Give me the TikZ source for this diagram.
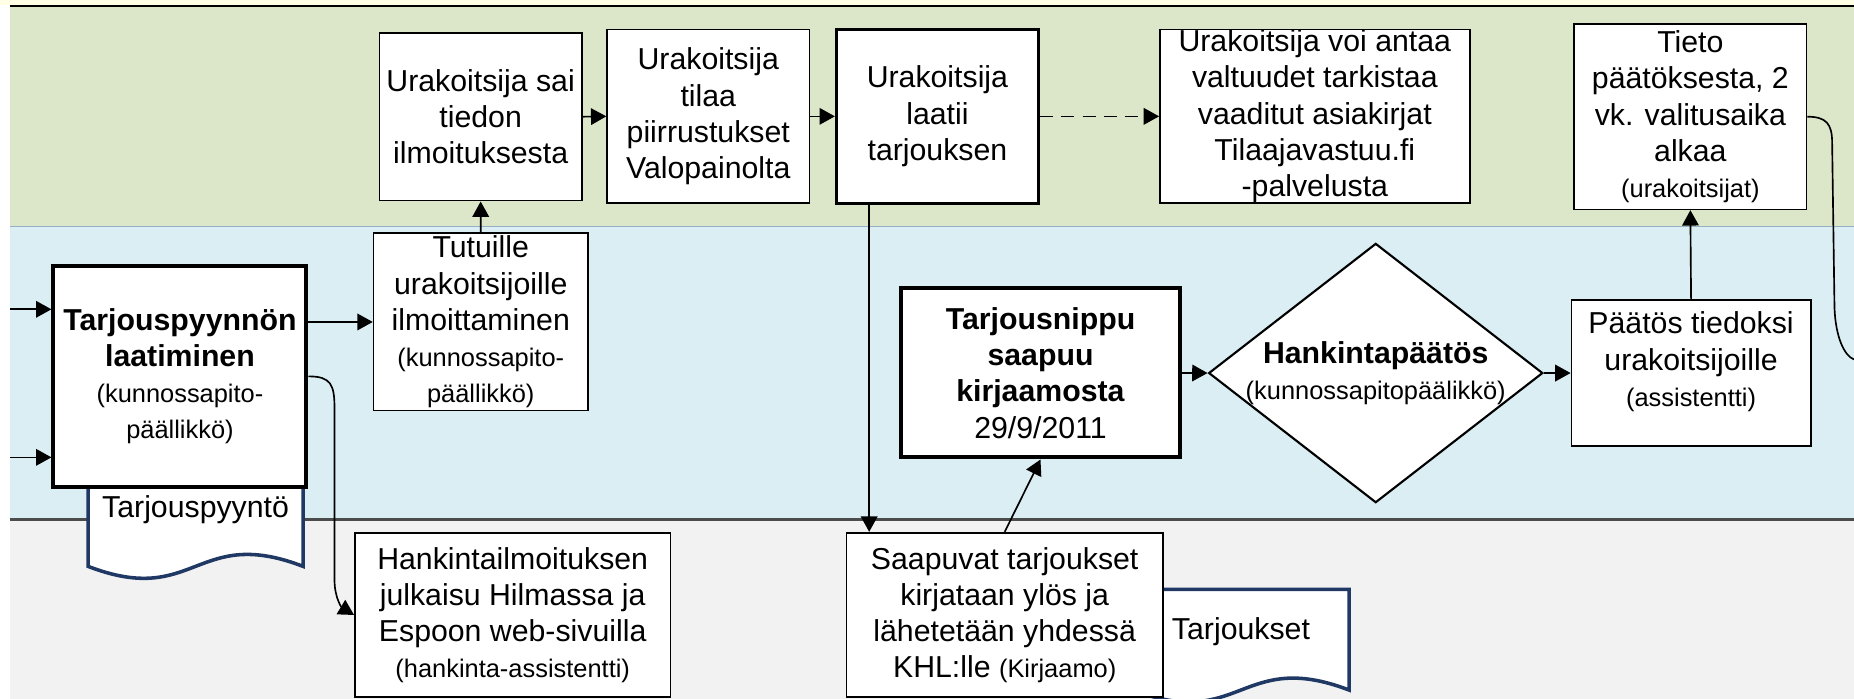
\documentclass[tikz,border=0pt]{standalone}
\usepackage{fontspec}
\setmainfont{Liberation Sans}
\usetikzlibrary{arrows.meta,shapes.geometric}
\definecolor{TopYellow}{RGB}{255,255,230}
\definecolor{LaneGreen}{RGB}{220,230,200}
\definecolor{LaneBlue}{RGB}{218,238,243}
\definecolor{LaneGray}{RGB}{242,242,242}
\definecolor{LaneEdge}{RGB}{150,175,195}
\definecolor{DocBlue}{RGB}{31,56,100}
\newcommand{\rooli}[1]{{\fontsize{21.5}{30.6}\selectfont #1}}

\begin{document}
\begin{tikzpicture}[x=1pt,y=-1pt,
    font=\fontsize{25.6}{30.6}\selectfont,
    box/.style={draw,fill=white,line width=1.4pt,align=center,inner sep=0pt},
    arr/.style={line width=1.4pt,-{Triangle[length=13pt,width=14pt]}},
    doc/.style={draw=DocBlue,fill=white,line width=3pt}]
  \useasboundingbox (0,0) rectangle (1568,591);
  % kaistat
  \fill[white] (0,0) rectangle (1568,591);
  \fill[TopYellow] (0,0) rectangle (1568,4);
  \fill[LaneGreen] (8.5,5) rectangle (1568,192);
  \fill[LaneBlue] (8.5,192) rectangle (1568,438);
  \fill[LaneGray] (8.5,438) rectangle (1568,591);
  \draw[line width=1.6pt] (8.5,4.8) -- (1568,4.8);
  \draw[LaneEdge,line width=1.5pt] (8.5,191.5) -- (1568,191.5);
  \draw[black!70,line width=2.6pt] (8.5,439) -- (1568,439);

  % asiakirjat
  \draw[doc] (74.5,400) -- (74.5,479) .. controls (165.4,514) and (165.4,444) .. (256.3,479) -- (256.3,400) -- cycle;
  \draw[doc] (958,583.6) -- (958,498.4) -- (1141,498.4) -- (1141,583.6) .. controls (1049.5,548.6) and (1049.5,618.6) .. cycle;
  \node (tpteksti) at (165.4,431) {Tarjouspyyntö};
  \node (tjteksti) at (1049.5,534.2) {Tarjoukset};

  % urakoitsijat
  \node[box,minimum width=171pt,minimum height=142pt] (ilmoitus) at (406.5,98.7) {Urakoitsija sai\\tiedon\\ilmoituksesta};
  \node[box,minimum width=171pt,minimum height=147pt] (piirustus) at (599,98.4) {Urakoitsija\\tilaa\\piirrustukset\\Valopainolta};
  \node[box,line width=2.4pt,minimum width=171pt,minimum height=147pt] (laatii) at (792.8,98.4) {Urakoitsija\\laatii\\tarjouksen};
  \node[box,minimum width=262pt,minimum height=147pt] (valtuus) at (1112,98.4) {Urakoitsija voi antaa\\valtuudet tarkistaa\\vaaditut asiakirjat\\Tilaajavastuu.fi\\-palvelusta};
  \node[box,minimum width=196.4pt,minimum height=156.7pt] (tieto) at (1429.6,98.7) {Tieto\\päätöksesta, 2\\vk. valitusaika\\alkaa\\\rooli{(urakoitsijat)}};

  % tilaaja
  \node[box,line width=3.4pt,minimum width=214pt,minimum height=186.6pt] (tpyynto) at (152.2,318.3) {\textbf{Tarjouspyynnön}\\\textbf{laatiminen}\\\rooli{(kunnossapito-}\\\rooli{päällikkö)}};
  \node[box,minimum width=181.3pt,minimum height=150pt] (tutuille) at (406.6,272.3) {Tutuille\\urakoitsijoille\\ilmoittaminen\\\rooli{(kunnossapito-}\\\rooli{päällikkö)}};
  \node[box,line width=3.4pt,minimum width=235.5pt,minimum height=143pt] (nippu) at (880,315.4) {\textbf{Tarjousnippu}\\\textbf{saapuu}\\\textbf{kirjaamosta}\\29/9/2011};
  \node[box,shape=diamond,aspect=1.29,inner sep=-4pt,line width=1.8pt,minimum width=282.6pt,minimum height=219.3pt] (hankinta) at (1163.5,315.5) {\textbf{Hankintapäätös}\\\rooli{(kunnossapitopäälikkö)}};
  \node[box,minimum width=202.4pt,minimum height=123.5pt] (paatos) at (1430.2,315.5) {};
  \node[align=center] (paatosteksti) at ([yshift=9.5pt]paatos.center) {Päätös tiedoksi\\urakoitsijoille\\\rooli{(assistentti)}};

  % kirjaamo ja hankinta
  \node[box,minimum width=266.9pt,minimum height=139.2pt] (hilma) at (433.6,520.1) {Hankintailmoituksen\\julkaisu Hilmassa ja\\Espoon web-sivuilla\\\rooli{(hankinta-assistentti)}};
  \node[box,minimum width=267.4pt,minimum height=139.2pt] (saapuvat) at (849.7,520.1) {Saapuvat tarjoukset\\kirjataan ylös ja\\lähetetään yhdessä\\KHL:lle \rooli{(Kirjaamo)}};

  % nuolet
  \coordinate (sisaan1) at (8.5,261.6);
  \coordinate (sisaan2) at (8.5,386.8);
  \coordinate (ulos) at (1568,304);
  \draw[arr] (sisaan1) -- (sisaan1 -| tpyynto.west);
  \draw[arr] (sisaan2) -- (sisaan2 -| tpyynto.west);
  \draw[arr] (tpyynto.east |- tutuille.west) -- (tutuille.west);
  \draw[arr] (tpyynto.east) .. controls +(19,0) and +(0,-20) .. ++(22,27) -- ++(0,145) .. controls +(0,16) and +(-10,-6) .. (hilma.west);
  \draw[arr] (tutuille.north) -- (ilmoitus.south);
  \draw[arr] (ilmoitus.east) -- (piirustus.west);
  \draw[arr] (piirustus.east) -- (laatii.west);
  \draw[arr,dash pattern=on 11pt off 7pt] (laatii.east) -- (valtuus.west);
  \draw[arr] ([xshift=29pt]laatii.south west) -- ([xshift=29pt]laatii.south west |- saapuvat.north);
  \draw[arr] (saapuvat.north) -- (nippu.south);
  \draw[arr] (nippu.east) -- (hankinta.west);
  \draw[arr] (hankinta.east) -- (paatos.west);
  \draw[arr] (paatos.north) -- (tieto.south);
  \draw[line width=1.4pt] (tieto.east) .. controls +(16,0) and +(0,-16) .. ++(21,22) -- ++(2,140) .. controls +(1,25) and +(-8,-3) .. (ulos);
\end{tikzpicture}
\end{document}
